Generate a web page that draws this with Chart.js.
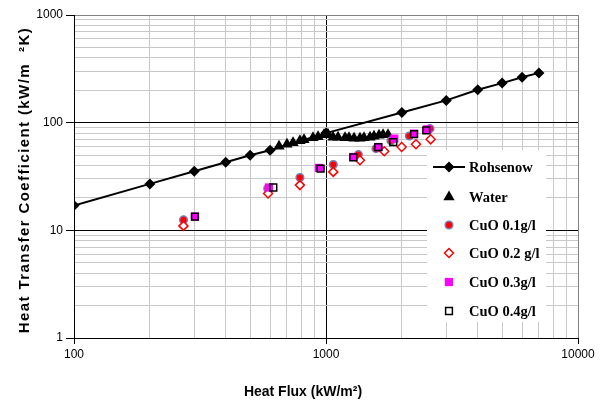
<!DOCTYPE html>
<html>
<head>
<meta charset="utf-8">
<script src="https://cdn.jsdelivr.net/npm/chart.js@4/dist/chart.umd.min.js"></script>
<style>
  body { margin: 0; background: #fff; }
  #wrap { width: 604px; height: 412px; }
</style>
</head>
<body>
<div id="wrap"><canvas id="myChart" width="604" height="412"></canvas></div>
<script>
// Rohsenow correlation
const rohsenowFlux = [100, 200, 300, 400, 500, 600, 1000, 2000, 3000, 4000, 5000, 6000, 7000];
const rohsenowHTC = [17, 27, 35.4, 42.9, 49.8, 55.4, 80, 124.5, 161, 202, 233, 264, 290];

// Water
const waterFlux = [651, 700, 740, 788, 818, 888, 930, 982, 1018, 1066, 1116, 1190, 1234, 1292, 1364, 1415, 1495, 1550, 1623, 1684, 1762];
const waterHTC = [60.3, 63, 65, 67.8, 69.3, 72.3, 73.9, 77.1, 77.9, 73.1, 73.1, 72.3, 72.3, 71.6, 71.6, 72.3, 73.1, 74.7, 76.3, 77.1, 77.1];

// CuO nanofluids
const cuo01Flux = [272, 587, 788, 1069, 1344, 1579, 1811, 2141, 2586];
const cuo01HTC = [12.5, 24.5, 31.0, 40.8, 50.5, 57.4, 67.8, 75.1, 88.0];
const cuo02Flux = [272, 589, 788, 1069, 1364, 1703, 1997, 2276, 2603];
const cuo02HTC = [11.0, 22.0, 26.3, 34.9, 44.8, 54.2, 59.4, 63.0, 70.0];
const cuo03Flux = [302, 594, 938, 1284, 1613, 1866, 2236, 2523];
const cuo03HTC = [13.4, 25.0, 38.0, 48.0, 59.4, 71.1, 79.1, 86.7];
const cuo04Flux = [302, 618, 952, 1284, 1613, 1849, 2236, 2500];
const cuo04HTC = [13.4, 25.0, 37.4, 47.7, 59.4, 66.1, 78.4, 84.9];

// axis ticks
const xTickValues = [100, 200, 300, 400, 500, 600, 700, 800, 900, 1000, 2000, 3000, 4000, 5000, 6000, 7000, 8000, 9000, 10000];
const yTickValues = [1, 2, 3, 4, 5, 6, 7, 8, 9, 10, 20, 30, 40, 50, 60, 70, 80, 90, 100, 200, 300, 400, 500, 600, 700, 800, 900, 1000];

function toPoints(xs, ys) {
  return xs.map(function (x, i) { return { x: x, y: ys[i] }; });
}

function isDecade(v) {
  var l = Math.log10(v);
  return Math.abs(l - Math.round(l)) < 1e-6;
}

var tickFont = { family: '"Liberation Sans", Arial, sans-serif', size: 12 };

// legend + axis titles drawn on top
var extras = {
  id: 'extras',
  afterDraw: function (chart) {
    var ctx = chart.ctx;
    var H = Chart.helpers;
    ctx.save();

    // axis titles
    ctx.fillStyle = '#000';
    ctx.font = 'bold 14px "Liberation Sans", Arial, sans-serif';
    ctx.textAlign = 'center';
    ctx.textBaseline = 'middle';
    ctx.fillText('Heat Flux (kW/m\u00B2)', 303, 392);

    ctx.save();
    ctx.translate(25, 180);
    ctx.rotate(-Math.PI / 2);
    ctx.font = 'bold 15px "Liberation Sans", Arial, sans-serif';
    if ('letterSpacing' in ctx) ctx.letterSpacing = '1.4px';
    ctx.fillText('Heat Transfer Coefficient (kW/m  \u00B2K)', 0, 0);
    ctx.restore();

    // legend box
    ctx.fillStyle = '#fff';
    ctx.fillRect(427, 150, 119, 172);

    var rows = [167, 197, 225, 253, 282, 311];
    var symX = 449, textX = 469;
    chart.data.datasets.forEach(function (ds, i) {
      var y = rows[i];
      if (ds.showLine) {
        ctx.strokeStyle = ds.borderColor;
        ctx.lineWidth = ds.borderWidth;
        ctx.beginPath();
        ctx.moveTo(433, y);
        ctx.lineTo(465, y);
        ctx.stroke();
      }
      ctx.fillStyle = ds.pointBackgroundColor;
      ctx.strokeStyle = ds.pointBorderColor;
      ctx.lineWidth = ds.pointBorderWidth;
      H.drawPoint(ctx, {
        pointStyle: ds.pointStyle,
        radius: ds.pointRadius,
        borderWidth: ds.pointBorderWidth,
        rotation: 0
      }, symX, y);
      ctx.fillStyle = '#000';
      ctx.font = 'bold 14.5px "Liberation Serif", "Times New Roman", serif';
      ctx.textAlign = 'left';
      ctx.textBaseline = 'middle';
      ctx.fillText(ds.label, textX, y + 1);
    });
    ctx.restore();
  }
};

var ctx = document.getElementById('myChart').getContext('2d');

var myChart = new Chart(ctx, {
  type: 'scatter',
  data: {
    datasets: [
      {
        label: 'Rohsenow',
        data: toPoints(rohsenowFlux, rohsenowHTC),
        showLine: true,
        borderColor: '#000',
        borderWidth: 2,
        pointStyle: 'rectRot',
        pointRadius: 5.5,
        pointBackgroundColor: '#000',
        pointBorderColor: '#000',
        pointBorderWidth: 0,
        order: 0
      },
      {
        label: 'Water',
        data: toPoints(waterFlux, waterHTC),
        pointStyle: 'triangle',
        pointRadius: 6.5,
        pointBackgroundColor: '#000',
        pointBorderColor: '#000',
        pointBorderWidth: 0,
        order: -1
      },
      {
        label: 'CuO 0.1g/l',
        data: toPoints(cuo01Flux, cuo01HTC),
        pointStyle: 'circle',
        pointRadius: 3.8,
        pointBackgroundColor: '#ff0000',
        pointBorderColor: '#7a7ab0',
        pointBorderWidth: 1.5,
        order: -2
      },
      {
        label: 'CuO 0.2 g/l',
        data: toPoints(cuo02Flux, cuo02HTC),
        pointStyle: 'rectRot',
        pointRadius: 4.5,
        pointBackgroundColor: '#fff',
        pointBorderColor: '#ff0000',
        pointBorderWidth: 1.5,
        order: -3
      },
      {
        label: 'CuO 0.3g/l',
        data: toPoints(cuo03Flux, cuo03HTC),
        pointStyle: 'rect',
        pointRadius: 5.8,
        pointBackgroundColor: '#ff00ff',
        pointBorderColor: '#ff00ff',
        pointBorderWidth: 0,
        order: -4
      },
      {
        label: 'CuO 0.4g/l',
        data: toPoints(cuo04Flux, cuo04HTC),
        pointStyle: 'rect',
        pointRadius: 4.8,
        pointBackgroundColor: 'rgba(0,0,0,0)',
        pointBorderColor: '#000',
        pointBorderWidth: 1.5,
        order: -5
      }
    ]
  },
  options: {
    responsive: false,
    animation: false,
    devicePixelRatio: 1,
    layout: { padding: { left: 0, top: 15, right: 26, bottom: 0 } },
    plugins: {
      legend: { display: false },
      tooltip: { enabled: false }
    },
    scales: {
      x: {
        type: 'logarithmic',
        min: 100,
        max: 10000,
        afterBuildTicks: function (scale) {
          scale.ticks = xTickValues.map(function (v) { return { value: v, major: isDecade(v) }; });
        },
        afterFit: function (scale) { scale.height = 74; },
        ticks: {
          autoSkip: false,
          maxRotation: 0,
          color: '#000',
          font: tickFont,
          padding: 3,
          callback: function (v) { return isDecade(v) ? String(v) : ''; }
        },
        grid: {
          tickLength: 6,
          color: function (c) {
            if (c.tick.value === 10000) return '#808080';
            return isDecade(c.tick.value) ? '#000' : '#c8c8c8';
          },
          tickColor: function (c) { return isDecade(c.tick.value) ? '#000' : 'rgba(0,0,0,0)'; }
        },
        border: { color: '#000', width: 1 }
      },
      y: {
        type: 'logarithmic',
        min: 1,
        max: 1000,
        afterBuildTicks: function (scale) {
          scale.ticks = yTickValues.map(function (v) { return { value: v, major: isDecade(v) }; });
        },
        afterFit: function (scale) { scale.width = 74; },
        ticks: {
          autoSkip: false,
          color: '#000',
          font: tickFont,
          padding: 3,
          callback: function (v) { return isDecade(v) ? String(v) : ''; }
        },
        grid: {
          tickLength: 8,
          color: function (c) {
            if (c.tick.value === 1000) return '#808080';
            return isDecade(c.tick.value) ? '#000' : '#c8c8c8';
          },
          tickColor: function (c) { return isDecade(c.tick.value) ? '#000' : 'rgba(0,0,0,0)'; }
        },
        border: { color: '#000', width: 1 }
      }
    }
  },
  plugins: [extras]
});
</script>
</body>
</html>
